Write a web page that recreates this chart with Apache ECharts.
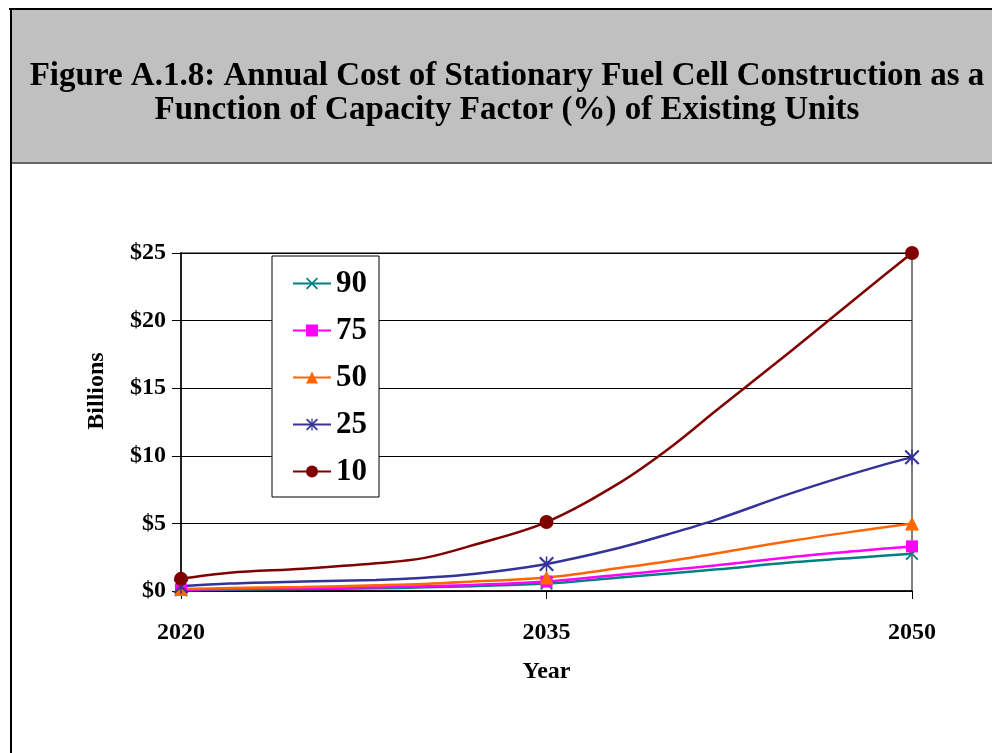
<!DOCTYPE html>
<html lang="en">

<head>
    <meta charset="UTF-8">
    <title>Figure A.1.8</title>
    <script src="https://cdn.jsdelivr.net/npm/echarts@6/dist/echarts.min.js"></script>
    <style>
        html, body { margin: 0; padding: 0; background: #fff; }
        #chart { width: 992px; height: 753px; }
    </style>
</head>

<body>
    <div id="chart"></div>

    <script>
        // data (billions of dollars)
        const years = [2020, 2022, 2025, 2028, 2030, 2032, 2035, 2038, 2040, 2042, 2045, 2048, 2050];
        const markerYears = [2020, 2035, 2050];
        const xTicks = [2020, 2035, 2050];

        const cf90 = [0.05, 0.1, 0.15, 0.2, 0.27, 0.36, 0.55, 1.0, 1.3, 1.6, 2.1, 2.5, 2.75];
        const cf75 = [0.1, 0.15, 0.2, 0.28, 0.35, 0.45, 0.7, 1.2, 1.55, 1.9, 2.5, 3.0, 3.3];
        const cf50 = [0.15, 0.22, 0.3, 0.42, 0.52, 0.7, 1.0, 1.7, 2.2, 2.8, 3.7, 4.5, 5.0];
        const cf25 = [0.35, 0.55, 0.7, 0.82, 0.98, 1.25, 2.0, 3.2, 4.2, 5.3, 7.2, 8.9, 9.9];
        const cf10 = [0.9, 1.35, 1.65, 2.05, 2.45, 3.4, 5.1, 8.0, 10.5, 13.4, 17.7, 22.1, 25.0];

        const serif = '"Liberation Serif", "Times New Roman", serif';

        // thin cross and asterisk markers
        const crossPath = 'path://M0,1 L1,0 L10,9 L9,10 Z M9,0 L10,1 L1,10 L0,9 Z';
        const starPath = 'path://M0,1 L1,0 L10,9 L9,10 Z M9,0 L10,1 L1,10 L0,9 Z M4.5,0 L5.5,0 L5.5,10 L4.5,10 Z';

        const seriesDefs = [
            { name: '90', values: cf90, color: '#008080', symbol: crossPath, size: 13 },
            { name: '75', values: cf75, color: '#FF00FF', symbol: 'rect', size: 12 },
            { name: '50', values: cf50, color: '#FF6600', symbol: 'triangle', size: 14 },
            { name: '25', values: cf25, color: '#333399', symbol: starPath, size: 15 },
            { name: '10', values: cf10, color: '#800000', symbol: 'circle', size: 14 }
        ];

        const chart = echarts.init(document.getElementById('chart'));

        chart.setOption({
            animation: false,
            backgroundColor: '#fff',
            graphic: [
                // grey title band
                { type: 'rect', shape: { x: 11, y: 9, width: 990, height: 154 }, style: { fill: '#C0C0C0' }, z: 0 },
                { type: 'rect', shape: { x: 11, y: 162, width: 990, height: 2 }, style: { fill: '#666' }, z: 1 },
                // outer frame
                { type: 'rect', shape: { x: 9, y: 8, width: 992, height: 2 }, style: { fill: '#000' }, z: 2 },
                { type: 'rect', shape: { x: 10, y: 8, width: 2, height: 760 }, style: { fill: '#000' }, z: 2 },
                {
                    type: 'text', x: 507, y: 93, z: 3,
                    style: {
                        text: 'Figure A.1.8: Annual Cost of Stationary Fuel Cell Construction as a\nFunction of Capacity Factor (%) of Existing Units',
                        font: 'bold 33px ' + serif,
                        fill: '#000',
                        align: 'center',
                        verticalAlign: 'middle',
                        lineHeight: 34
                    }
                },
                {
                    type: 'text', x: 97, y: 391, rotation: Math.PI / 2, z: 3,
                    style: {
                        text: 'Billions',
                        font: 'bold 24px ' + serif,
                        fill: '#000',
                        align: 'center',
                        verticalAlign: 'middle'
                    }
                }
            ],
            grid: {
                left: 181, right: 80, top: 253, bottom: 162,
                show: true, borderColor: '#808080', borderWidth: 2
            },
            legend: {
                orient: 'vertical',
                left: 272, top: 256,
                backgroundColor: '#fff',
                borderColor: '#000',
                borderWidth: 1,
                padding: [12, 12, 10, 20],
                itemWidth: 38,
                itemHeight: 15,
                itemGap: 16,
                textStyle: { fontFamily: serif, fontWeight: 'bold', fontSize: 31, color: '#000' },
                data: seriesDefs.map(s => s.name)
            },
            xAxis: {
                type: 'value',
                min: 2020, max: 2050,
                name: 'Year',
                nameLocation: 'middle',
                nameGap: 69,
                nameTextStyle: { fontFamily: serif, fontWeight: 'bold', fontSize: 24, color: '#000' },
                axisLine: { show: true, lineStyle: { color: '#000', width: 1.5 } },
                axisTick: { show: true, customValues: xTicks, length: 8, inside: false, lineStyle: { color: '#000' } },
                axisLabel: {
                    customValues: xTicks,
                    margin: 30,
                    formatter: v => String(v),
                    fontFamily: serif, fontWeight: 'bold', fontSize: 24, color: '#000'
                },
                splitLine: { show: false }
            },
            yAxis: {
                type: 'value',
                min: 0, max: 25, interval: 5,
                axisLine: { show: true, lineStyle: { color: '#000', width: 1.5 } },
                axisTick: { show: true, length: 9, lineStyle: { color: '#000' } },
                axisLabel: {
                    margin: 15,
                    formatter: v => '$' + v,
                    fontFamily: serif, fontWeight: 'bold', fontSize: 24, color: '#000'
                },
                splitLine: { show: true, lineStyle: { color: '#000', width: 1.2 } }
            },
            series: seriesDefs.map(s => ({
                name: s.name,
                type: 'line',
                smooth: 0.35,
                symbol: s.symbol,
                symbolSize: s.size,
                color: s.color,
                lineStyle: { color: s.color, width: 2.5 },
                itemStyle: { color: s.color },
                data: years.map((y, i) => ({
                    value: [y, s.values[i]],
                    symbol: markerYears.includes(y) ? s.symbol : 'none'
                }))
            }))
        });
    </script>
</body>

</html>
